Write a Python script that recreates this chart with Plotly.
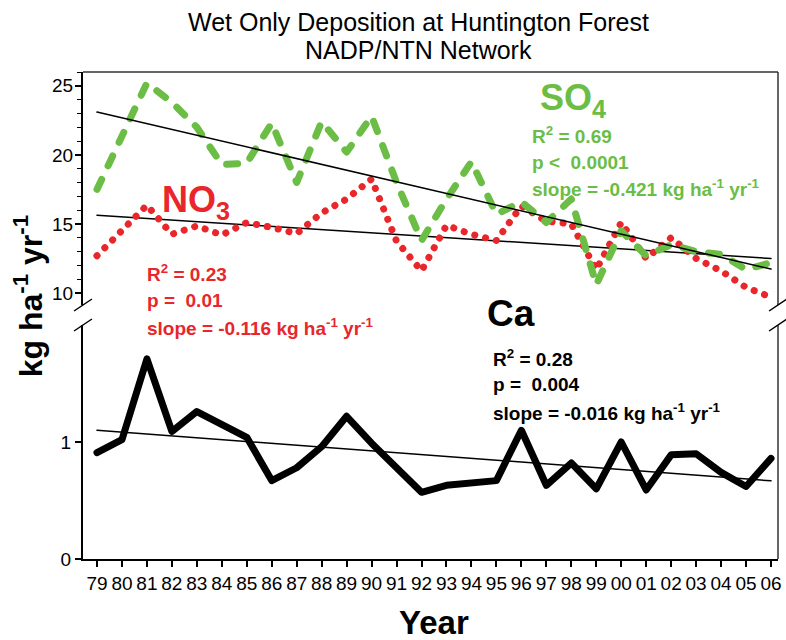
import plotly.graph_objects as go

# Wet-only deposition, Huntington Forest (NADP/NTN), 1979-2006
years = ["79", "80", "81", "82", "83", "84", "85", "86", "87", "88", "89", "90",
         "91", "92", "93", "94", "95", "96", "97", "98", "99", "00", "01", "02",
         "03", "04", "05", "06"]

so4 = [17.5, 21.4, 25.2, 23.8, 22.0, 19.3, 19.4, 22.3, 18.0, 22.4, 20.2, 22.8,
       18.0, 13.8, 16.8, 19.5, 15.7, 16.6, 15.1, 16.8, 10.6, 14.5, 12.7, 13.5,
       13.0, 12.8, 11.7, 12.2]

no3 = [12.7, 14.5, 16.35, 14.25, 14.85, 14.2, 15.1, 14.75, 14.3, 15.8, 16.8, 18.25,
       13.75, 11.6, 14.9, 14.25, 13.8, 16.3, 15.2, 15.0, 11.7, 15.1, 12.5, 14.0,
       12.5, 11.6, 10.4, 9.7]

ca = [0.91, 1.02, 1.71, 1.09, 1.26, 1.15, 1.04, 0.67, 0.78, 0.96, 1.22, 0.99,
      0.78, 0.57, 0.63, 0.65, 0.67, 1.10, 0.63, 0.82, 0.60, 1.00, 0.59, 0.89,
      0.90, 0.74, 0.62, 0.86]

# upper-panel ticks: every unit, labelled every five
upper_ticks = list(range(10, 27))
upper_labels = [str(v) if v % 5 == 0 else "" for v in upper_ticks]

# linear trends: value in 1979 and slope (kg ha-1 yr-1)
so4_trend_start, so4_slope = 23.1, -0.421
no3_trend_start, no3_slope = 15.63, -0.116
ca_trend_start, ca_slope = 1.10, -0.016

x = list(range(len(years)))


def trend(start, slope):
    return [start + slope * i for i in x]


GREEN = "#6bbd45"
RED = "#e8262b"
FONT = "Arial, Liberation Sans, sans-serif"

fig = go.Figure()

# upper panel (SO4, NO3); y3 shares y2's range and lengthens the major ticks
fig.add_trace(go.Scatter(x=x, y=trend(so4_trend_start, so4_slope), yaxis="y3",
                         mode="lines", line=dict(color="black", width=1.5)))
fig.add_trace(go.Scatter(x=x, y=trend(no3_trend_start, no3_slope), yaxis="y2",
                         mode="lines", line=dict(color="black", width=1.5)))
fig.add_trace(go.Scatter(x=x, y=no3, yaxis="y2", mode="lines",
                         line=dict(color=RED, width=7, dash="0.1px,11px")))
fig.add_trace(go.Scatter(x=x, y=so4, yaxis="y2", mode="lines",
                         line=dict(color=GREEN, width=7, dash="11px,15px")))

# lower panel (Ca) on y
fig.add_trace(go.Scatter(x=x, y=trend(ca_trend_start, ca_slope), yaxis="y",
                         mode="lines", line=dict(color="black", width=1.5)))
fig.add_trace(go.Scatter(x=x, y=ca, yaxis="y", mode="lines",
                         line=dict(color="black", width=7)))

L, R, T, B = 83, 4, 72, 81
W, H = 786, 640
PW, PH = W - L - R, H - T - B


def px(X):
    return (X - L) / PW


def py(Y):
    return (H - B - Y) / PH


axis_font = dict(family=FONT, size=19, color="black")
upper_range = [9.13, 26.0]
upper_domain = [py(305), 1]

fig.update_layout(
    width=W, height=H,
    margin=dict(l=L, r=R, t=T, b=B),
    paper_bgcolor="white", plot_bgcolor="white",
    showlegend=False,
    font=dict(family=FONT, color="black"),
    xaxis=dict(
        range=[-0.56, 27.28], tickmode="array", tickvals=x, ticktext=years,
        showgrid=False, zeroline=False, showline=True, linecolor="black",
        linewidth=2, ticks="outside", ticklen=6, tickwidth=1.5,
        tickcolor="black", tickfont=axis_font, anchor="y",
    ),
    yaxis=dict(
        domain=[0, py(325)], range=[0, 2.0], tickmode="array", tickvals=[0, 1],
        showgrid=False, zeroline=False, showline=True, linecolor="black",
        linewidth=2, ticks="outside", ticklen=6, tickwidth=1.5,
        tickcolor="black", tickfont=axis_font, anchor="x",
    ),
    yaxis2=dict(
        domain=upper_domain, range=upper_range, tickmode="array",
        tickvals=upper_ticks, ticktext=upper_labels,
        showgrid=False, zeroline=False, showline=True, linecolor="black",
        linewidth=2, ticks="outside", ticklen=4, tickwidth=1.3,
        tickcolor="black", tickfont=axis_font, anchor="x",
    ),
    yaxis3=dict(
        overlaying="y2", side="left", anchor="x", range=upper_range,
        domain=upper_domain,
        tickmode="linear", tick0=10, dtick=5, ticks="outside", ticklen=7,
        tickwidth=1.5, tickcolor="black", showticklabels=False,
        showgrid=False, zeroline=False, showline=False,
    ),
)

shapes = []
# frame: top edge and right edges of both panels
shapes.append(dict(type="line", xref="paper", yref="paper", x0=0, x1=1, y0=1, y1=1,
                   line=dict(color="#333333", width=1.5)))
shapes.append(dict(type="line", xref="paper", yref="paper", x0=1, x1=1,
                   y0=py(305), y1=1, line=dict(color="#333333", width=1.5)))
shapes.append(dict(type="line", xref="paper", yref="paper", x0=1, x1=1,
                   y0=0, y1=py(325), line=dict(color="#333333", width=1.5)))
# axis break marks
for X in (L, W - R):
    for Yb in (305, 325):
        shapes.append(dict(type="line", xref="paper", yref="paper",
                           x0=px(X - 9), x1=px(X + 9),
                           y0=py(Yb + 6), y1=py(Yb - 6),
                           line=dict(color="black", width=1.5)))
fig.update_layout(shapes=shapes)

ann = []


def text(X, Y, s, size, color="black", bold=False, xanchor="left"):
    if bold:
        s = "<b>" + s + "</b>"
    ann.append(dict(x=px(X), y=py(Y), xref="paper", yref="paper", text=s,
                    showarrow=False, xanchor=xanchor, yanchor="middle",
                    font=dict(family=FONT, size=size, color=color)))


# title
text(420, 22, "Wet Only Deposition at Huntington Forest", 25, xanchor="center")
text(420, 50, "NADP/NTN Network", 25, xanchor="center")

# axis titles
text(436, 622, "Year", 33, bold=True, xanchor="center")
ann.append(dict(x=px(28), y=py(296), xref="paper", yref="paper",
                text="<b>kg ha<sup>-1</sup> yr<sup>-1</sup></b>", textangle=-90,
                showarrow=False, xanchor="center", yanchor="middle",
                font=dict(family=FONT, size=32, color="black")))

# SO4 label and statistics
text(541, 100, "SO<sub>4</sub>", 36, GREEN, bold=True)
text(533, 135, "R<sup>2</sup> = 0.69", 19, GREEN, bold=True)
text(533, 162, "p &lt;  0.0001", 19, GREEN, bold=True)
text(533, 188, "slope = -0.421 kg ha<sup>-1</sup> yr<sup>-1</sup>", 19, GREEN, bold=True)

# NO3 label and statistics
text(160, 202, "NO<sub>3</sub>", 36, RED, bold=True)
text(145, 273, "R<sup>2</sup> = 0.23", 19, RED, bold=True)
text(145, 300, "p =  0.01", 19, RED, bold=True)
text(145, 327, "slope = -0.116 kg ha<sup>-1</sup> yr<sup>-1</sup>", 19, RED, bold=True)

# Ca label and statistics
text(487, 313, "Ca", 37, bold=True)
text(493, 358, "R<sup>2</sup> = 0.28", 19, bold=True)
text(493, 385, "p =  0.004", 19, bold=True)
text(493, 412, "slope = -0.016 kg ha<sup>-1</sup> yr<sup>-1</sup>", 19, bold=True)

fig.update_layout(annotations=ann)

# round line caps so the dotted and dashed series have rounded ends
post = """
var gd = document.getElementById('{plot_id}');
function roundCaps() {
  gd.querySelectorAll('.scatterlayer .js-line').forEach(function (p) {
    p.style.strokeLinecap = 'round';
    p.style.strokeLinejoin = 'round';
  });
}
roundCaps();
if (gd.on) { gd.on('plotly_afterplot', roundCaps); }
"""

fig.write_html("out.html", post_script=post)
